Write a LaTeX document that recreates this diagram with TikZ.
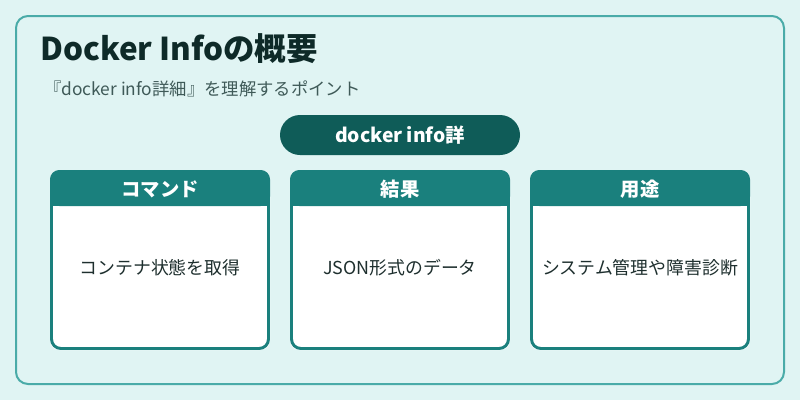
\documentclass[tikz,border=0pt]{standalone}
\usepackage{fontspec}
\setmainfont{Noto Sans CJK JP}
\usetikzlibrary{positioning}
\definecolor{bgcyan}{HTML}{E0F4F3}
\definecolor{framecol}{HTML}{4AABA8}
\definecolor{pillcol}{HTML}{0F5C58}
\definecolor{headcol}{HTML}{1A807D}
\definecolor{titlecol}{HTML}{0E2A28}
\definecolor{subcol}{HTML}{3F5A58}
\definecolor{bodytext}{HTML}{1E2F2E}
\tikzset{
  cardhead/.style={text=white,font=\fontsize{14.5}{16}\selectfont\bfseries},
  cardbody/.style={text=bodytext,font=\fontsize{13.4}{15}\selectfont},
}
\begin{document}
\begin{tikzpicture}[x=0.75pt,y=-0.75pt]
\useasboundingbox (0,0) rectangle (800,400);
\fill[bgcyan] (0,0) rectangle (800,400);
\draw[framecol,line width=1.5pt,rounded corners=9pt] (16,16) rectangle (784,384);
\node[anchor=base west,inner sep=0pt,text=titlecol,font=\fontsize{23.6}{26}\selectfont\bfseries] (title) at (40,60) {Docker Infoの概要};
\node[anchor=base west,inner sep=0pt,text=subcol,font=\fontsize{13}{15}\selectfont] (sub) at (44,95) {『docker info詳細』を理解するポイント};
\fill[pillcol,rounded corners=15pt] (280,115) rectangle (520,155);
\node[text=white,font=\fontsize{14.5}{16}\selectfont\bfseries] (pill) at (400,135) {docker info詳};
\foreach \x/\nm/\hd/\bd in {50/cmd/コマンド/コンテナ状態を取得,290/res/結果/JSON形式のデータ,530/use/用途/システム管理や障害診断}{
  \fill[white,rounded corners=7pt] (\x,170) rectangle ++(220,180);
  \fill[headcol,rounded corners=7pt] (\x,170) rectangle ++(220,36);
  \fill[headcol] (\x,195) rectangle ++(220,11);
  \draw[headcol,line width=2.2pt,rounded corners=7pt] (\x+1.5,171.5) rectangle ++(217,177);
  \node[cardhead] (\nm-head) at (\x+110,189) {\hd};
  \node[cardbody] (\nm-body) at (\x+110,268) {\bd};
}
\end{tikzpicture}
\end{document}
